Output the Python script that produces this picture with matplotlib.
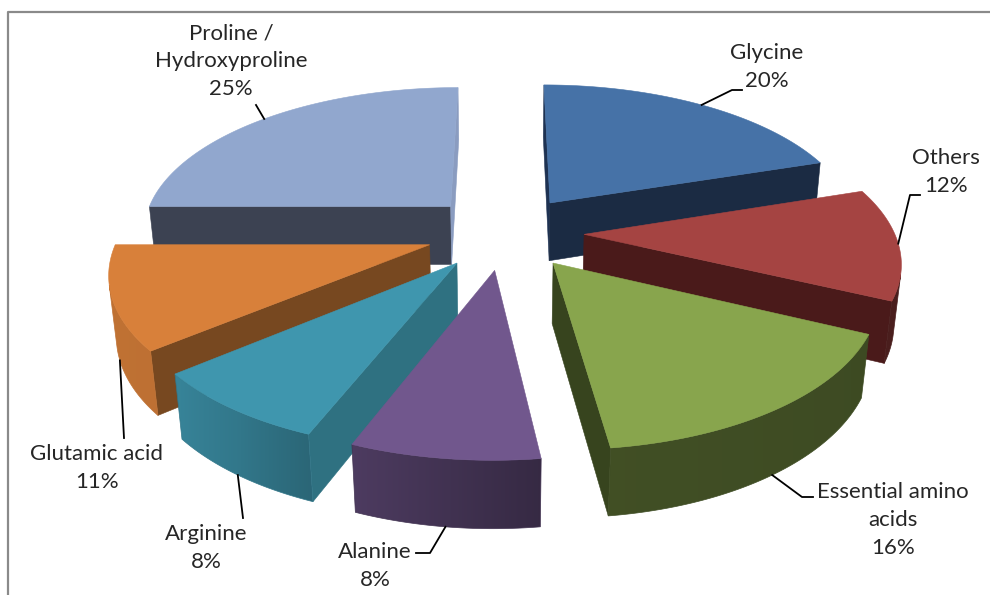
import numpy as np
import matplotlib.pyplot as plt
from matplotlib.colors import to_rgb

# Данные диаграммы
labels = ['Glycine', 'Others', 'Essential amino\nacids', 'Alanine',
          'Arginine', 'Glutamic acid', 'Proline /\nHydroxyproline']
values = [20, 12, 16, 8, 8, 11, 25]

# Цвета: верхняя грань и боковые (радиальные) грани
top_colors = ['#4672A7', '#A54442', '#88A54D', '#71578D', '#3F96AE', '#D8803A', '#91A7CE']
side_colors = [('#1E3252', '#1B2B43'), ('#4A1A1A', '#4A1A1A'), ('#37441E', '#37441E'),
               ('#3F3152', '#3F3152'), ('#2F7181', '#2F7181'), ('#774820', '#774820'),
               ('#3C4252', '#8A9CC0')]

# Положение подписей и точки выносок (в пикселях)
label_pos = [(767, 67), (946, 172), (893, 520), (375, 566), (206, 548), (97, 468), (231, 61)]
leader_pts = [[(732, 90), (742, 90)], [(910, 195), (920, 195)], [(802, 497), (813, 497)],
              [(430, 553), (416, 553)], [(243, 518)], [(124, 438)], [(256, 105)]]

# Параметры "камеры" для объёмного круга
cx, cy = 505, 232
D = 5.5
phi = np.radians(28)
F = 310 * D
explode = 0.255
h = 0.22
cam = np.array([0, -D * np.cos(phi), D * np.sin(phi)])

# Освещённость внешней стенки в зависимости от угла
wall_angles = [90, 115, 173, 201, 215, 230, 270]
wall_light = [0.45, 0.45, 0.48, 0.68, 0.8, 0.88, 0.9]


def project(X, Y, Z):
    depth = D + Y * np.cos(phi) - Z * np.sin(phi)
    return cx + F * X / depth, cy - F * (Y * np.sin(phi) + Z * np.cos(phi)) / depth


def visible(normal, point):
    return np.dot(normal, cam - np.array(point)) > 0


fig = plt.figure(figsize=(9.9, 5.95), dpi=100)
ax = fig.add_axes([0, 0, 1, 1])

fracs = np.array(values) / sum(values)
edges = np.concatenate([[0], np.cumsum(fracs) * 360])

# Порядок рисования: от дальних секторов к ближним
order = []
for i in range(len(values)):
    mid = np.radians((edges[i] + edges[i + 1]) / 2)
    order.append((D + (explode + 0.5) * np.cos(mid) * np.cos(phi), i))

anchors = {}
z = 1
for _, i in sorted(order, reverse=True):
    a1, a2 = edges[i], edges[i + 1]
    mid = np.radians((a1 + a2) / 2)
    ox, oy = explode * np.sin(mid), explode * np.cos(mid)
    th = np.radians(np.linspace(a1, a2, int(a2 - a1) * 2 + 2))
    rim_x = ox + np.sin(th)
    rim_y = oy + np.cos(th)

    # радиальные грани
    for k, (ang, sign) in enumerate([(a1, -1), (a2, 1)]):
        t = np.radians(ang)
        n = sign * np.array([np.cos(t), -np.sin(t), 0])
        p = (ox + 0.5 * np.sin(t), oy + 0.5 * np.cos(t), -h / 2)
        if visible(n, p):
            ex, ey = ox + np.sin(t), oy + np.cos(t)
            pts = [(ox, oy, 0), (ex, ey, 0), (ex, ey, -h), (ox, oy, -h)]
            ax.add_patch(plt.Polygon([project(*q) for q in pts], facecolor=side_colors[i][k],
                                     edgecolor=side_colors[i][k], lw=0.4, zorder=z))
            z += 1

    # внешняя стенка (градиент по углу)
    vis = np.array([visible((np.sin(t), np.cos(t), 0),
                            (ox + np.sin(t), oy + np.cos(t), -h / 2)) for t in th])
    if vis.sum() > 1:
        tv = th[vis]
        top_rim = [project(ox + np.sin(t), oy + np.cos(t), 0) for t in tv]
        bot_rim = [project(ox + np.sin(t), oy + np.cos(t), -h) for t in tv]
        outline = top_rim + bot_rim[::-1]
        wall = plt.Polygon(outline, facecolor='none', edgecolor='none')
        ax.add_patch(wall)
        sx = np.array([q[0] for q in top_rim])
        f = np.interp(np.degrees(tv), wall_angles, wall_light)
        srt = np.argsort(sx)
        xs = [q[0] for q in outline]
        ys = [q[1] for q in outline]
        gx = np.linspace(min(xs) - 1, max(xs) + 1, 300)
        gf = np.interp(gx, sx[srt], f[srt])
        img = np.array(to_rgb(top_colors[i]))[None, None, :] * gf[None, :, None]
        im = ax.imshow(img, extent=(min(xs) - 1, max(xs) + 1, max(ys) + 1, min(ys) - 1),
                       aspect='auto', interpolation='bilinear', zorder=z)
        im.set_clip_path(wall)
        ax.add_patch(plt.Polygon(outline, facecolor='none',
                                 edgecolor=tuple(np.array(to_rgb(top_colors[i])) * f.mean()),
                                 lw=0.5, zorder=z))
        z += 1

    # верхняя грань
    top = [project(ox, oy, 0)] + [project(x, y, 0) for x, y in zip(rim_x, rim_y)]
    ax.add_patch(plt.Polygon(top, closed=True, facecolor=top_colors[i],
                             edgecolor=top_colors[i], linewidth=0.4, zorder=z))
    z += 1

    # точка привязки выноски
    zz = 0 if np.cos(mid) > -0.3 else -h
    anchors[i] = project(ox + np.sin(mid), oy + np.cos(mid), zz)

# Подписи и выноски
for i in range(len(values)):
    pts = [anchors[i]] + leader_pts[i]
    ax.plot([p[0] for p in pts], [p[1] for p in pts], color='black', lw=1.3, zorder=z)
    ax.text(label_pos[i][0], label_pos[i][1], f'{labels[i]}\n{values[i]}%',
            ha='center', va='center', fontsize=16, family='Lato',
            color='#262626', linespacing=1.5, zorder=z)

# Рамка области диаграммы
ax.plot([8, 8, 990], [595, 12, 12], color='#8a8a8a', lw=1.6, zorder=z)

ax.set_xlim(0, 990)
ax.set_ylim(595, 0)
ax.axis('off')

plt.savefig('out.png', dpi=100)
